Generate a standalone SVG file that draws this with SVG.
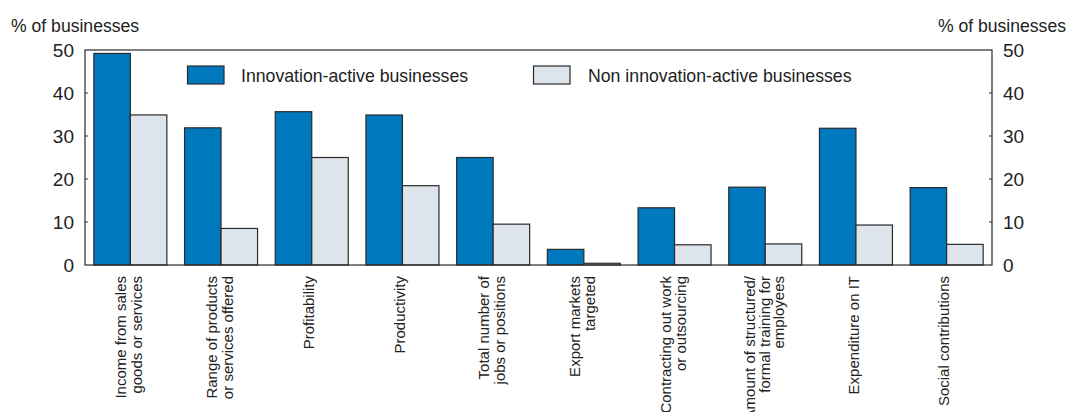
<svg xmlns="http://www.w3.org/2000/svg" width="1067" height="412" viewBox="0 0 1067 412">
<style>
text{font-family:"Liberation Sans",Arial,sans-serif;fill:#222}
.t{font-size:17.6px}
.tk{font-size:19px}
.lg{font-size:17.7px}
.cat{font-size:15px}
.b{fill:#0078BE;stroke:#2a2a2a;stroke-width:1.2}
.g{fill:#DDE4EC;stroke:#2a2a2a;stroke-width:1.2}
.ax{fill:none;stroke:#2a2a2a;stroke-width:1.2}
</style>
<rect width="1067" height="412" fill="#fff"/>
<g id="axes">
<text class="t" x="11" y="31.5">% of businesses</text>
<text class="t" x="1066" y="31.5" text-anchor="end">% of businesses</text>
<g class="tk" text-anchor="end">
<text class="tk" x="74" y="56.8">50</text>
<text class="tk" x="74" y="99.8">40</text>
<text class="tk" x="74" y="142.8">30</text>
<text class="tk" x="74" y="185.8">20</text>
<text class="tk" x="74" y="228.8">10</text>
<text class="tk" x="74" y="271.8">0</text>
</g>
<text class="tk" x="1003" y="56.8">50</text>
<text class="tk" x="1003" y="99.8">40</text>
<text class="tk" x="1003" y="142.8">30</text>
<text class="tk" x="1003" y="185.8">20</text>
<text class="tk" x="1003" y="228.8">10</text>
<text class="tk" x="1003" y="271.8">0</text>
</g>
<g id="bars">
<rect class="b" x="93.85" y="53.44" width="36.5" height="211.56"/><rect class="g" x="130.35" y="114.93" width="36.5" height="150.07"/>
<rect class="b" x="184.55" y="127.83" width="36.5" height="137.17"/><rect class="g" x="221.05" y="228.45" width="36.5" height="36.55"/>
<rect class="b" x="275.25" y="111.7" width="36.5" height="153.3"/><rect class="g" x="311.75" y="157.5" width="36.5" height="107.5"/>
<rect class="b" x="365.95" y="115" width="36.5" height="150"/><rect class="g" x="402.45" y="185.7" width="36.5" height="79.3"/>
<rect class="b" x="456.65" y="157.5" width="36.5" height="107.5"/><rect class="g" x="493.15" y="224.15" width="36.5" height="40.85"/>
<rect class="b" x="547.35" y="249.35" width="36.5" height="15.65"/><rect class="g" x="583.85" y="263.28" width="36.5" height="1.72"/>
<rect class="b" x="638.05" y="207.81" width="36.5" height="57.19"/><rect class="g" x="674.55" y="244.79" width="36.5" height="20.21"/>
<rect class="b" x="728.75" y="187.17" width="36.5" height="77.83"/><rect class="g" x="765.25" y="243.93" width="36.5" height="21.07"/>
<rect class="b" x="819.45" y="128.26" width="36.5" height="136.74"/><rect class="g" x="855.95" y="225.01" width="36.5" height="39.99"/>
<rect class="b" x="910.15" y="187.6" width="36.5" height="77.4"/><rect class="g" x="946.65" y="244.36" width="36.5" height="20.64"/>
</g>
<g id="frame">
<rect class="ax" x="85" y="50" width="907" height="215"/>
<path class="ax" d="M85 222h3M85 179h3M85 136h3M85 93h3M992 222h-3M992 179h-3M992 136h-3M992 93h-3"/>
</g>
<g id="legend">
<rect class="b" x="187.5" y="66" width="36.5" height="18"/>
<text class="lg" x="241" y="81.5">Innovation-active businesses</text>
<rect class="g" x="533.5" y="66" width="36.5" height="18"/>
<text class="lg" x="588" y="81.5">Non innovation-active businesses</text>
</g>
<g id="categories" class="cat" text-anchor="end">
<text class="cat" transform="translate(130.35,276) rotate(-90)"><tspan x="0" y="-4">Income from sales</tspan><tspan x="0" y="11.5">goods or services</tspan></text>
<text class="cat" transform="translate(221.05,276) rotate(-90)"><tspan x="0" y="-4">Range of products</tspan><tspan x="0" y="11.5">or services offered</tspan></text>
<text class="cat" transform="translate(311.75,276) rotate(-90)"><tspan x="0" y="2.6">Profitability</tspan></text>
<text class="cat" transform="translate(402.45,276) rotate(-90)"><tspan x="0" y="2.6">Productivity</tspan></text>
<text class="cat" transform="translate(493.15,276) rotate(-90)"><tspan x="0" y="-4">Total number of</tspan><tspan x="0" y="11.5">jobs or positions</tspan></text>
<text class="cat" transform="translate(583.85,276) rotate(-90)"><tspan x="0" y="-4">Export markets</tspan><tspan x="0" y="11.5">targeted</tspan></text>
<text class="cat" transform="translate(674.55,276) rotate(-90)"><tspan x="0" y="-4">Contracting out work</tspan><tspan x="0" y="11.5">or outsourcing</tspan></text>
<text class="cat" transform="translate(765.25,276) rotate(-90)"><tspan x="0" y="-10">Amount of structured/</tspan><tspan x="0" y="4.5">formal training for</tspan><tspan x="0" y="19">employees</tspan></text>
<text class="cat" transform="translate(855.95,276) rotate(-90)"><tspan x="0" y="2.6">Expenditure on IT</tspan></text>
<text class="cat" transform="translate(946.65,276) rotate(-90)"><tspan x="0" y="2.6">Social contributions</tspan></text>
</g>
</svg>
